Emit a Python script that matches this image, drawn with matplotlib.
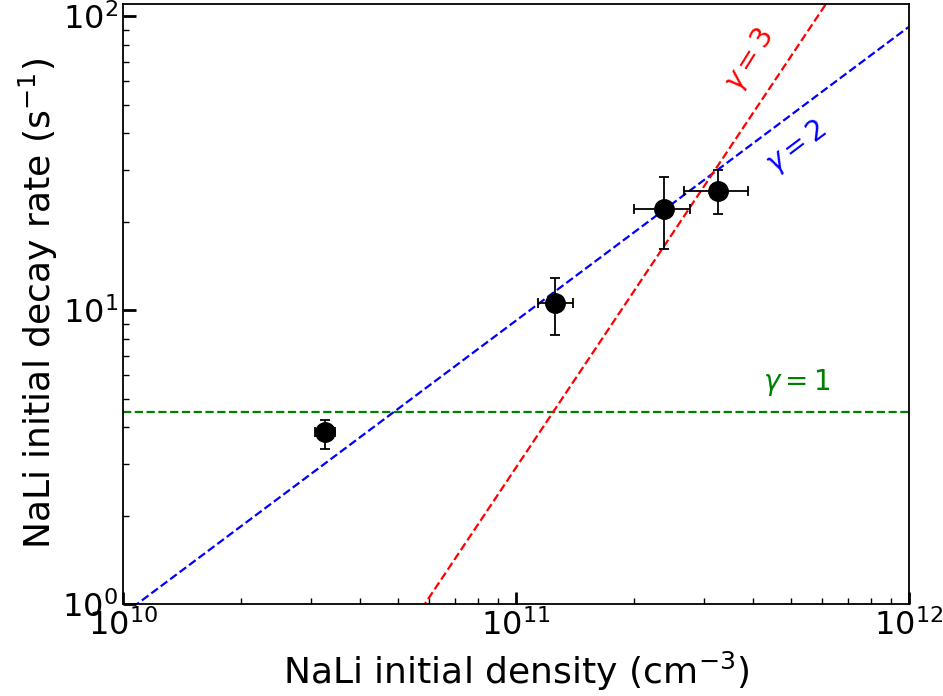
import numpy as np
import matplotlib
matplotlib.use("Agg")
import matplotlib.pyplot as plt

# data
density = [3.26e10, 1.26e11, 2.38e11, 3.27e11]
density_lo = [3.08e10, 1.135e11, 2.0e11, 2.68e11]
density_hi = [3.46e10, 1.40e11, 2.77e11, 3.90e11]
rate = [3.85, 10.6, 22.1, 25.4]
rate_lo = [3.37, 8.2, 16.1, 21.2]
rate_hi = [4.22, 12.9, 28.3, 29.9]

gamma1_rate = 4.5
gamma2_n0 = 1.086e10   # rate = n / n0
gamma3_n0 = 5.86e10    # rate = (n / n0)^2

density = np.array(density); rate = np.array(rate)
xerr = [density - np.array(density_lo), np.array(density_hi) - density]
yerr = [rate - np.array(rate_lo), np.array(rate_hi) - rate]

fig = plt.figure(figsize=(9.43, 6.96), dpi=100)
ax = fig.add_axes([123/943, 1 - 604/696, (909-123)/943, (604-4)/696])

nline = np.logspace(10, 12, 400)
ax.plot(nline, np.full_like(nline, gamma1_rate), '--', color='green', lw=1.6)
ax.plot(nline, nline / gamma2_n0, '--', color='blue', lw=1.6)
ax.plot(nline, (nline / gamma3_n0) ** 2, '--', color='red', lw=1.6)

ax.errorbar(density, rate, xerr=xerr, yerr=yerr, fmt='o', color='black',
            markersize=14, capsize=3.5, elinewidth=1.3, capthick=1.3, zorder=5)

ax.set_xscale('log'); ax.set_yscale('log')
ax.set_xlim(1e10, 1e12)
ax.set_ylim(1, 110)

ax.text(3.94e11, 70.8, r'$\gamma = 3$', color='red', fontsize=20, rotation=58,
        ha='center', va='center')
ax.text(5.19e11, 35.8, r'$\gamma = 2$', color='blue', fontsize=20, rotation=37,
        ha='center', va='center')
ax.text(5.19e11, 5.69, r'$\gamma = 1$', color='green', fontsize=20,
        ha='center', va='center')

ax.set_xlabel(r'NaLi initial density (cm$^{-3}$)', fontsize=26, labelpad=6)
ax.set_ylabel(r'NaLi initial decay rate (s$^{-1}$)', fontsize=26, labelpad=2)
ax.tick_params(which='both', direction='in', top=False, right=False, labelsize=23)
ax.tick_params(which='major', length=9, width=2)
ax.tick_params(which='minor', length=4.5, width=1)
for s in ax.spines.values():
    s.set_linewidth(1.3)

fig.savefig('out.png', dpi=100)
